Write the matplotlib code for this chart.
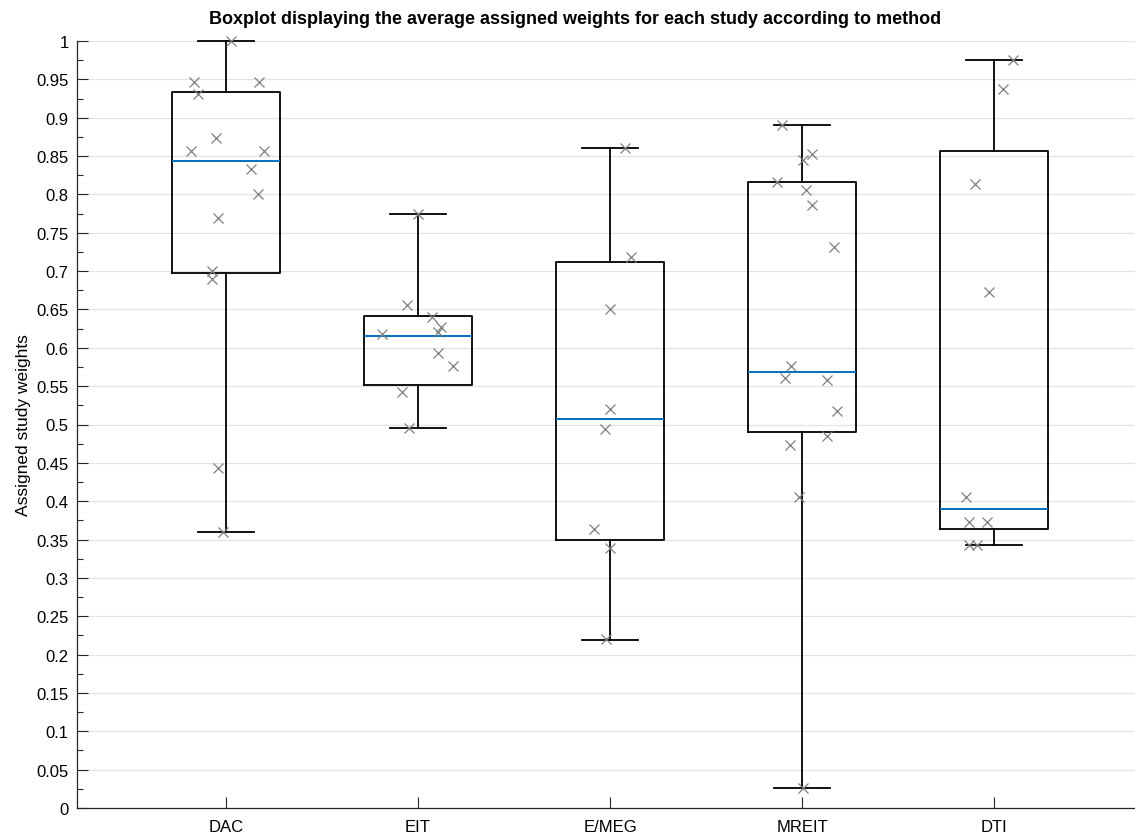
import numpy as np
import matplotlib
matplotlib.use("Agg")
import matplotlib.pyplot as plt
from matplotlib.ticker import MultipleLocator, FuncFormatter

plt.rcParams['font.family'] = ['Liberation Sans', 'DejaVu Sans']

methods = ["DAC", "EIT", "E/MEG", "MREIT", "DTI"]

# Box statistics
whisk_lo = [0.360, 0.495, 0.2195, 0.026, 0.343]
q1 = [0.6975, 0.5515, 0.350, 0.4906, 0.364]
med = [0.844, 0.616, 0.507, 0.569, 0.390]
q3 = [0.933, 0.642, 0.712, 0.8157, 0.856]
whisk_hi = [1.000, 0.774, 0.8605, 0.891, 0.975]

# Individual study weights (y) and horizontal jitter (x offset) per method
dac_y = [1.000, 0.947, 0.931, 0.947, 0.8735, 0.856, 0.856, 0.833, 0.800, 0.769, 0.6997, 0.690, 0.443, 0.360]
dac_dx = [0.026, -0.167, -0.146, 0.172, -0.052, -0.182, 0.198, 0.130, 0.167, -0.042, -0.073, -0.073, -0.042, -0.016]
eit_y = [0.7744, 0.656, 0.640, 0.627, 0.620, 0.618, 0.593, 0.576, 0.543, 0.495]
eit_dx = [0.0, -0.057, 0.073, 0.12, 0.104, -0.1875, 0.104, 0.182, -0.083, -0.047]
emeg_y = [0.8605, 0.718, 0.650, 0.520, 0.494, 0.364, 0.3386, 0.2203]
emeg_dx = [0.078, 0.109, 0.0, 0.0, -0.026, -0.083, 0.0, -0.021]
mreit_y = [0.891, 0.8527, 0.845, 0.8166, 0.806, 0.786, 0.732, 0.5767, 0.560, 0.5584, 0.517, 0.4846, 0.4733, 0.405, 0.0257]
mreit_dx = [-0.104, 0.052, 0.005, -0.13, 0.02, 0.052, 0.167, -0.057, -0.089, 0.13, 0.182, 0.13, -0.0625, -0.016, 0.005]
dti_y = [0.975, 0.938, 0.8135, 0.673, 0.405, 0.3733, 0.3733, 0.343, 0.343]
dti_dx = [0.1, 0.047, -0.099, -0.026, -0.146, -0.13, -0.036, -0.13, -0.089]

points_y = [dac_y, eit_y, emeg_y, mreit_y, dti_y]
points_dx = [dac_dx, eit_dx, emeg_dx, mreit_dx, dti_dx]

fig = plt.figure(figsize=(11.35, 8.37), dpi=100)
ax = fig.add_axes([77/1135, 1-809/837, 1-77/1135, (809-42)/837])

positions = np.arange(1, len(methods)+1)
stats = []
for i in range(len(methods)):
    stats.append(dict(whislo=whisk_lo[i], q1=q1[i], med=med[i], q3=q3[i],
                      whishi=whisk_hi[i], fliers=[], label=methods[i]))

parts = ax.bxp(stats, positions=positions, widths=0.56, capwidths=0.29, showfliers=False,
               boxprops=dict(color='black', linewidth=1.3),
               whiskerprops=dict(color='black', linewidth=1.3, linestyle='-'),
               capprops=dict(color='black', linewidth=1.3),
               medianprops=dict(color='#0072BD', linewidth=1.4), zorder=3)
for key in parts:
    for art in parts[key]:
        art.set_clip_on(False)

for i in range(len(methods)):
    xs = positions[i] + np.array(points_dx[i])
    ax.plot(xs, points_y[i], linestyle='none', marker='x', color='#7f7f7f',
            markersize=7.5, markeredgewidth=0.9, zorder=4, clip_on=False)

ax.set_xlim(0.224, 5.734)
ax.set_ylim(0, 1)
ax.set_xticks(positions)
ax.set_xticklabels(methods)
ax.yaxis.set_major_locator(MultipleLocator(0.05))
ax.yaxis.set_minor_locator(MultipleLocator(0.025))
ax.yaxis.set_major_formatter(FuncFormatter(lambda v, p: ('%.2f' % v).rstrip('0').rstrip('.') if v != 0 else '0'))

ax.tick_params(axis='both', which='major', direction='in', length=8, width=0.8,
               color='#262626', labelsize=12, labelcolor='black')
ax.tick_params(axis='y', which='minor', direction='in', length=4, width=0.8, color='#262626')
ax.tick_params(axis='x', which='major', pad=8)
ax.tick_params(axis='y', which='major', pad=6)
ax.grid(axis='y', which='major', color='#e3e3e3', linewidth=0.9, zorder=0)
ax.set_axisbelow(True)
for s in ['top', 'right']:
    ax.spines[s].set_visible(False)
for s in ['left', 'bottom']:
    ax.spines[s].set_color('#262626')
    ax.spines[s].set_linewidth(0.9)

ax.set_ylabel('Assigned study weights', fontsize=12.5, labelpad=4)
fig.text(575/1135, 1-20/837, 'Boxplot displaying the average assigned weights for each study according to method',
         ha='center', va='center', fontsize=13, fontweight='bold')

fig.savefig('out.png', dpi=100)
